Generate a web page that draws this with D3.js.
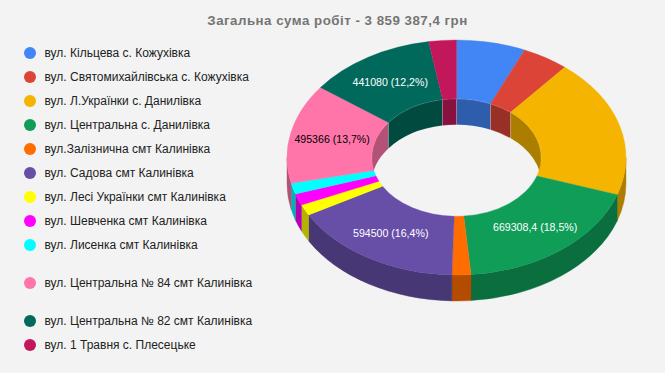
<!DOCTYPE html>
<html>
<head>
<meta charset="utf-8">
<script src="https://cdn.jsdelivr.net/npm/d3@7"></script>
<style>
  html, body { margin: 0; padding: 0; background: #f3f3f3; }
  text { font-family: "Liberation Sans", Arial, sans-serif; }
</style>
</head>
<body>
<div id="chart"></div>
<script>
const titleText = "Загальна сума робіт - 3 859 387,4 грн";

const categories = [
  "вул. Кільцева с. Кожухівка",
  "вул. Святомихайлівська с. Кожухівка",
  "вул. Л.Українки с. Данилівка",
  "вул. Центральна с. Данилівка",
  "вул.Залізнична смт Калинівка",
  "вул. Садова смт Калинівка",
  "вул. Лесі Українки смт Калинівка",
  "вул. Шевченка смт Калинівка",
  "вул. Лисенка смт Калинівка",
  "вул. Центральна № 84 смт Калинівка",
  "вул. Центральна № 82 смт Калинівка",
  "вул. 1 Травня с. Плесецьке"
];
const values = [238000, 161000, 690000, 669308.4, 65000, 594500, 54000, 58000, 54000, 495366, 441080, 95000];
const sliceLabels = [null, null, null, "669308,4 (18,5%)", null, "594500 (16,4%)", null, null, null, "495366 (13,7%)", "441080 (12,2%)", null];
const colors = ["#4285f4", "#db4437", "#f4b400", "#0f9d58", "#ff6d00", "#674ea7", "#ffff00", "#ff00ff", "#00ffff", "#ff75a9", "#00695c", "#c2185b"];
const labelColors = ["#fff", "#fff", "#000", "#fff", "#fff", "#fff", "#000", "#fff", "#000", "#000", "#fff", "#fff"];

const width = 665, height = 373;
const cx = 456.5, cy = 157.5;
const rx = 169.5, ry = 117.5, depth = 26;
const hole = 0.5;

const svg = d3.select("#chart").append("svg")
  .attr("width", width)
  .attr("height", height)
  .style("display", "block");

svg.append("rect").attr("width", width).attr("height", height).attr("fill", "#f3f3f3");

// Title
svg.append("text")
  .attr("x", 337.5)
  .attr("y", 25)
  .attr("text-anchor", "middle")
  .attr("fill", "#757575")
  .style("font-size", "13.3px")
  .style("font-weight", "bold")
  .style("letter-spacing", "0.5px")
  .text(titleText);

// Legend, rows 9 and 10 are taller in the original
const legend = svg.append("g");
let legendY = 53;
categories.forEach((c, i) => {
  if (i === 9 || i === 10) legendY += 14;
  legend.append("circle").attr("cx", 30).attr("cy", legendY).attr("r", 6).attr("fill", colors[i]);
  legend.append("text")
    .attr("x", 44.5)
    .attr("y", legendY + 4)
    .attr("fill", "#222")
    .style("font-size", "12px")
    .text(c);
  legendY += 24;
});

// Slices, angles run clockwise from the top
const slices = d3.pie().sort(null)(values);

// Point on the ellipse at parametric angle a, radius fraction f
const px = (a, f) => cx + rx * f * Math.sin(a);
const py = (a, f) => cy - ry * f * Math.cos(a);

function wallPath(a0, a1, f) {
  const r1 = rx * f, r2 = ry * f;
  const large = a1 - a0 > Math.PI ? 1 : 0;
  return `M${px(a0, f)},${py(a0, f)}` +
    `A${r1},${r2} 0 ${large} 1 ${px(a1, f)},${py(a1, f)}` +
    `L${px(a1, f)},${py(a1, f) + depth}` +
    `A${r1},${r2} 0 ${large} 0 ${px(a0, f)},${py(a0, f) + depth}Z`;
}

const wallColor = i => d3.rgb(colors[i]).darker(1);

// Inner wall, the far half of the hole
const innerRanges = [[-Math.PI / 2, Math.PI / 2], [1.5 * Math.PI, 2.5 * Math.PI]];
const innerG = svg.append("g");
slices.forEach((s, i) => {
  innerRanges.forEach(([lo, hi]) => {
    const a0 = Math.max(s.startAngle, lo), a1 = Math.min(s.endAngle, hi);
    if (a1 <= a0) return;
    innerG.append("path")
      .attr("d", wallPath(a0, a1, hole))
      .attr("fill", wallColor(i))
      .attr("stroke", "#fff")
      .attr("stroke-opacity", 0.25)
      .attr("stroke-width", 0.6);
  });
});

// Outer wall, the near half of the rim
const outerG = svg.append("g");
slices.forEach((s, i) => {
  const a0 = Math.max(s.startAngle, Math.PI / 2), a1 = Math.min(s.endAngle, 1.5 * Math.PI);
  if (a1 <= a0) return;
  outerG.append("path")
    .attr("d", wallPath(a0, a1, 1))
    .attr("fill", wallColor(i))
    .attr("stroke", wallColor(i))
    .attr("stroke-width", 0.4);
});

// Top faces, a circular donut squashed into the ellipse
const arc = d3.arc().innerRadius(rx * hole).outerRadius(rx);
svg.append("g")
  .attr("transform", `translate(${cx},${cy}) scale(1,${ry / rx})`)
  .selectAll("path")
  .data(slices)
  .enter().append("path")
  .attr("d", arc)
  .attr("fill", (d, i) => colors[i])
  .attr("stroke", (d, i) => colors[i])
  .attr("stroke-width", 0.4);

// Slice labels
svg.append("g")
  .selectAll("text")
  .data(slices)
  .enter().append("text")
  .filter((d, i) => sliceLabels[i] !== null)
  .attr("x", d => px((d.startAngle + d.endAngle) / 2, (1 + hole) / 2))
  .attr("y", d => py((d.startAngle + d.endAngle) / 2, (1 + hole) / 2) + 4)
  .attr("text-anchor", "middle")
  .attr("fill", d => labelColors[d.index])
  .style("font-size", "10.6px")
  .text(d => sliceLabels[d.index]);
</script>
</body>
</html>
